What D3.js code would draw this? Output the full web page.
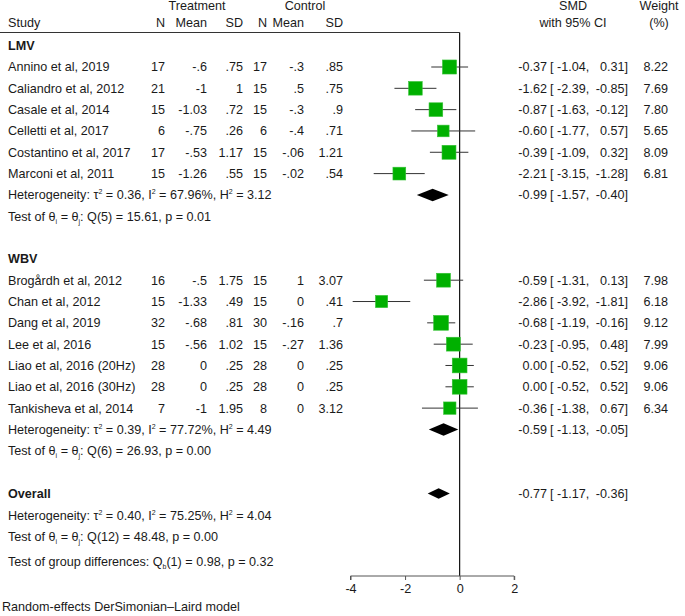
<!DOCTYPE html>
<html><head><meta charset="utf-8">
<script src="https://cdn.jsdelivr.net/npm/d3@7"></script>
<style>
body{margin:0;background:#fff;}
text{font-family:"Liberation Sans",Arial,sans-serif;font-size:12.6px;fill:#1a1a1a;}
</style></head>
<body><svg id="c" width="685" height="616"></svg>
<script>
const studies = ["Annino et al, 2019","Caliandro et al, 2012","Casale et al, 2014","Celletti et al, 2017","Costantino et al, 2017","Marconi et al, 2011",
  "Brogårdh et al, 2012","Chan et al, 2012","Dang et al, 2019","Lee et al, 2016","Liao et al, 2016 (20Hz)","Liao et al, 2016 (30Hz)","Tankisheva et al, 2014"];
const groupOf = ["LMV","LMV","LMV","LMV","LMV","LMV","WBV","WBV","WBV","WBV","WBV","WBV","WBV"];
const tN = ["17","21","15","6","17","15","16","15","32","15","28","28","7"];
const tMean = ["-.6","-1","-1.03","-.75","-.53","-1.26","-.5","-1.33","-.68","-.56","0","0","-1"];
const tSD = [".75","1",".72",".26","1.17",".55","1.75",".49",".81","1.02",".25",".25","1.95"];
const cN = ["17","15","15","6","15","15","15","15","30","15","28","28","8"];
const cMean = ["-.3",".5","-.3","-.4","-.06","-.02","1","0","-.16","-.27","0","0","0"];
const cSD = [".85",".75",".9",".71","1.21",".54","3.07",".41",".7","1.36",".25",".25","3.12"];
const smd = [-0.37,-1.62,-0.87,-0.60,-0.39,-2.21,-0.59,-2.86,-0.68,-0.23,0.00,0.00,-0.36];
const lo = [-1.04,-2.39,-1.63,-1.77,-1.09,-3.15,-1.31,-3.92,-1.19,-0.95,-0.52,-0.52,-1.38];
const hi = [0.31,-0.85,-0.12,0.57,0.32,-1.28,0.13,-1.81,-0.16,0.48,0.52,0.52,0.67];
const weight = [8.22,7.69,7.80,5.65,8.09,6.81,7.98,6.18,9.12,7.99,9.06,9.06,6.34];

const groups = ["LMV","WBV"];
const poolSmd = [-0.99,-0.59];
const poolLo = [-1.57,-1.13];
const poolHi = [-0.40,-0.05];
const tau2 = ["0.36","0.39"], I2 = ["67.96%","77.72%"], H2 = ["3.12","4.49"];
const Qdf = ["5","6"], Qval = ["15.61","26.93"], Qp = ["0.01","0.00"];
const overall = {smd:-0.77, lo:-1.17, hi:-0.36, tau2:"0.40", I2:"75.25%", H2:"4.04", Qdf:"12", Q:"48.48", p:"0.00"};
const groupDiff = {df:"1", Q:"0.98", p:"0.32"};
const xTicks = [-4,-2,0,2];

const svg = d3.select("#c");
const x = d3.scaleLinear().domain([-4,2]).range([350.5,514.2]);
const y = d3.scaleLinear().domain([0,1]).range([67,88.32]);
const fmt = v => v.toFixed(2);

const hdr1 = 6, hdr2 = 23;
function txt(xp, yp, s, anchor){ return svg.append("text").attr("x",xp).attr("y",yp).attr("dy","0.35em").attr("text-anchor",anchor||"start").text(s); }
txt(197,hdr1,"Treatment","middle");
txt(305,hdr1,"Control","middle");
txt(573,hdr1,"SMD","middle");
txt(659,hdr1,"Weight","middle");
txt(8,hdr2,"Study");
const colX = [165,207,243,267,304,343];
["N","Mean","SD","N","Mean","SD"].forEach((h,i)=>txt(colX[i],hdr2,h,"end"));
txt(573,hdr2,"with 95% CI","middle");
txt(659,hdr2,"(%)","middle");
svg.append("line").attr("x1",0).attr("x2",x(0)).attr("y1",32.5).attr("y2",32.5).attr("stroke","#333").attr("stroke-width",1);

svg.append("line").attr("x1",x(0)).attr("x2",x(0)).attr("y1",32.5).attr("y2",576).attr("stroke","#111").attr("stroke-width",1.2);

function ciText(yp, e, l, h){
  txt(547,yp,fmt(e),"end");
  txt(550,yp,"[ "+fmt(l)+",","start");
  txt(628,yp,fmt(h)+"]","end");
}
function diamond(yp, e, l, h, hh){
  svg.append("path").attr("d",`M${x(l)},${yp} L${x(e)},${yp-hh/2} L${x(h)},${yp} L${x(e)},${yp+hh/2} Z`).attr("fill","#000");
}
function hetText(yp, t, i2, h2){
  const t1 = svg.append("text").attr("x",8).attr("y",yp).attr("dy","0.35em");
  t1.append("tspan").text("Heterogeneity: τ");
  t1.append("tspan").attr("font-size","7px").attr("dy","-5").text("2");
  t1.append("tspan").attr("dy","5").text(" = "+t+", I");
  t1.append("tspan").attr("font-size","7px").attr("dy","-5").text("2");
  t1.append("tspan").attr("dy","5").text(" = "+i2+", H");
  t1.append("tspan").attr("font-size","7px").attr("dy","-5").text("2");
  t1.append("tspan").attr("dy","5").text(" = "+h2);
}
function testText(yp, df, q, p){
  const t1 = svg.append("text").attr("x",8).attr("y",yp).attr("dy","0.35em");
  t1.append("tspan").text("Test of θ");
  t1.append("tspan").attr("font-size","7px").attr("dy","3").text("i");
  t1.append("tspan").attr("dy","-3").text(" = θ");
  t1.append("tspan").attr("font-size","7px").attr("dy","3").text("j");
  t1.append("tspan").attr("dy","-3").text(`: Q(${df}) = ${q}, p = ${p}`);
}

let row = -1;
groups.forEach((g,gi)=>{
  txt(8,y(row),g).attr("font-weight","bold");
  row++;
  studies.forEach((s,i)=>{
    if(groupOf[i]!==g) return;
    const yp = y(row);
    txt(8,yp,s);
    [tN[i],tMean[i],tSD[i],cN[i],cMean[i],cSD[i]].forEach((v,k)=>txt(colX[k],yp,v,"end"));
    svg.append("line").attr("x1",x(lo[i])).attr("x2",x(hi[i])).attr("y1",yp).attr("y2",yp).attr("stroke","#333").attr("stroke-width",1);
    const side = 4.9*Math.sqrt(weight[i]);
    svg.append("rect").attr("x",x(smd[i])-side/2).attr("y",yp-side/2).attr("width",side).attr("height",side)
      .attr("fill","#00b000").attr("stroke","#33c233").attr("stroke-width",0.6);
    ciText(yp,smd[i],lo[i],hi[i]);
    txt(668,yp,weight[i].toFixed(2),"end");
    row++;
  });
  const yp = y(row);
  hetText(yp,tau2[gi],I2[gi],H2[gi]);
  diamond(yp,poolSmd[gi],poolLo[gi],poolHi[gi],12.5);
  ciText(yp,poolSmd[gi],poolLo[gi],poolHi[gi]);
  row++;
  testText(y(row),Qdf[gi],Qval[gi],Qp[gi]);
  row += 2;
});
txt(8,y(row),"Overall").attr("font-weight","bold");
diamond(y(row),overall.smd,overall.lo,overall.hi,10.5);
ciText(y(row),overall.smd,overall.lo,overall.hi);
row++;
hetText(y(row)+1,overall.tau2,overall.I2,overall.H2);
row++;
testText(y(row)+1,overall.Qdf,overall.Q,overall.p);
{
  const t1 = svg.append("text").attr("x",8).attr("y",562).attr("dy","0.35em");
  t1.append("tspan").text("Test of group differences: Q");
  t1.append("tspan").attr("font-size","7px").attr("dy","3").text("b");
  t1.append("tspan").attr("dy","-3").text(`(${groupDiff.df}) = ${groupDiff.Q}, p = ${groupDiff.p}`);
}
txt(2,607,"Random-effects DerSimonian–Laird model").attr("font-size","13.8px");

const ax = svg.append("g").attr("transform","translate(0,576)")
  .call(d3.axisBottom(x).tickValues(xTicks).tickSize(4).tickPadding(4).tickFormat(d => String(d)));
ax.select(".domain").attr("stroke","#555").attr("d",`M${x(-4)},4V0H${x(2)}V4`);
ax.selectAll(".tick line").attr("stroke","#555");
ax.selectAll(".tick text").attr("font-size","12.6px").attr("font-family","Liberation Sans, Arial, sans-serif").attr("fill","#1a1a1a").attr("dy","0.71em");
</script></body></html>
